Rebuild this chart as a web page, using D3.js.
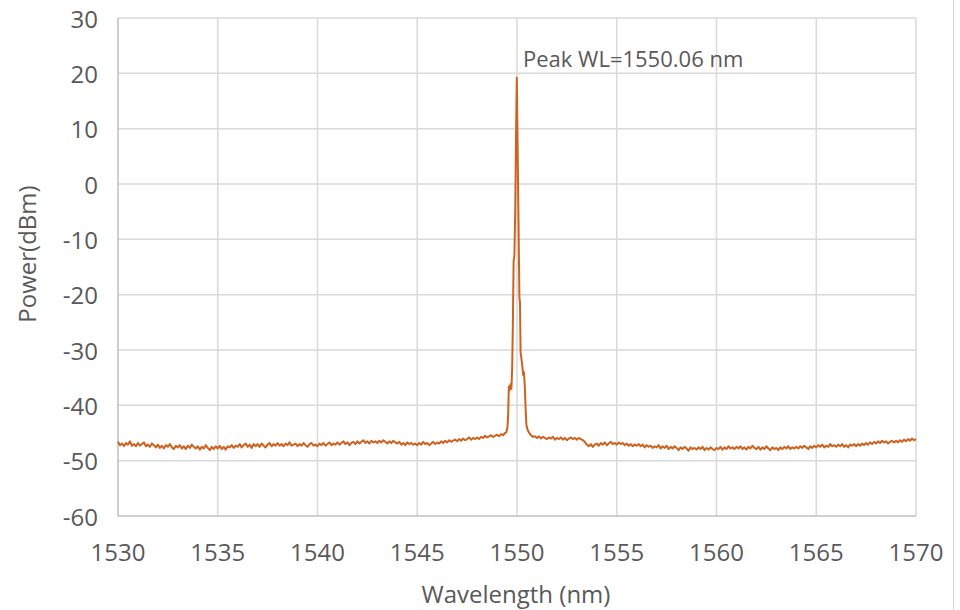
<!DOCTYPE html>
<html><head><meta charset="utf-8">
<script src="https://cdn.jsdelivr.net/npm/d3@7"></script>
<style>body{margin:0;background:#fff}svg{display:block}</style>
</head><body>
<svg id="c" width="960" height="610"></svg>
<script>
// ---- data ----
const xTicks = [1530,1535,1540,1545,1550,1555,1560,1565,1570];
const yTicks = [30,20,10,0,-10,-20,-30,-40,-50,-60];
const sampleStep = 0.1; // OSA sampling grid (nm)
const leftStart = 1530.0;
const leftFloor = [
 -46.6,-47.2,-46.9,-47.4,-46.8,-47.1,-46.5,-47.3,-47.0,-47.4,
 -46.8,-47.3,-47.0,-46.7,-47.4,-47.1,-47.5,-46.9,-47.2,-47.6,
 -47.1,-47.7,-47.3,-47.8,-47.2,-47.5,-47.0,-47.6,-47.9,-47.3,
 -47.6,-47.2,-47.8,-47.4,-47.9,-47.3,-47.7,-47.1,-47.5,-47.8,
 -47.4,-48.0,-47.5,-47.8,-47.2,-47.7,-48.1,-47.5,-47.9,-47.4,
 -47.8,-47.3,-47.9,-47.5,-48.0,-47.4,-47.6,-47.2,-47.7,-47.3,
 -47.5,-47.0,-47.6,-47.2,-46.9,-47.5,-47.1,-47.7,-47.0,-47.4,
 -47.0,-47.5,-46.9,-47.3,-47.6,-47.1,-46.8,-47.4,-47.0,-47.3,
 -46.8,-47.3,-47.0,-47.4,-46.9,-47.2,-46.7,-47.3,-47.1,-46.9,
 -47.4,-47.0,-47.3,-46.8,-47.2,-47.5,-47.0,-46.8,-47.3,-47.1,
 -47.4,-46.9,-47.2,-46.8,-47.3,-47.0,-46.7,-47.2,-46.9,-47.1,
 -46.7,-47.1,-46.8,-46.5,-47.0,-46.7,-47.2,-46.8,-46.6,-47.0,
 -46.5,-46.9,-46.6,-46.3,-46.8,-46.5,-46.9,-46.4,-46.7,-46.5,
 -46.8,-46.4,-46.7,-46.3,-46.6,-46.9,-46.5,-46.8,-46.4,-46.7,
 -46.9,-46.6,-47.1,-46.8,-47.2,-46.7,-47.0,-46.8,-47.1,-46.9,
 -47.2,-46.8,-47.1,-46.6,-47.0,-46.8,-47.2,-46.9,-46.6,-47.0,
 -46.7,-46.9,-46.5,-46.8,-46.4,-46.7,-46.3,-46.6,-46.4,-46.2,
 -46.5,-46.1,-46.4,-46.0,-46.3,-46.1,-45.8,-46.2,-45.9,-46.1,
 -45.8,-46.1,-45.7,-45.9,-45.5,-45.8,-45.6,-45.4,-45.7,-45.5,
 -45.3,-45.6,-45.2,-45.4,-45.0
];
const peakWl = [1549.46,1549.52,1549.56,1549.59,1549.63,1549.67,1549.72,1549.76,1549.79,1549.83,1549.87,1549.91,1549.95,1549.99,1550.02,1550.05,1550.08,1550.12,1550.15,1550.18,1550.22,1550.27,1550.31,1550.35,1550.39,1550.43,1550.47,1550.52,1550.58,1550.64,1550.70];
const peakDb = [-44.9,-44.0,-41.5,-36.6,-37.3,-36.2,-37.0,-33.0,-26.0,-14.0,-13.0,-5.0,8.0,19.2,10.0,1.0,-8.0,-20.5,-21.5,-30.5,-31.5,-33.0,-34.5,-34.0,-36.5,-40.5,-43.5,-44.3,-44.8,-45.1,-45.4];
const rightStart = 1550.8;
const rightFloor = [
 -45.7,-45.6,
 -45.9,-45.6,-46.0,-45.7,-45.9,-46.1,-45.8,-46.0,-45.7,-46.2,
 -45.9,-46.1,-45.8,-46.2,-45.9,-46.3,-46.0,-45.8,-46.1,-45.9,
 -46.2,-45.9,-46.1,-46.3,-46.6,-47.1,-47.4,-47.0,-47.5,-47.1,
 -46.9,-47.3,-46.8,-47.1,-46.7,-47.2,-46.9,-46.6,-47.0,-46.8,
 -47.1,-46.7,-47.0,-46.8,-47.2,-46.9,-47.3,-47.0,-47.4,-47.1,
 -47.3,-47.0,-47.4,-47.1,-47.6,-47.2,-47.5,-47.3,-47.7,-47.4,
 -47.6,-47.2,-47.8,-47.4,-47.7,-47.3,-47.9,-47.5,-47.8,-47.4,
 -47.7,-48.1,-47.6,-47.9,-47.5,-47.8,-48.2,-47.6,-47.9,-47.7,
 -48.0,-47.6,-47.9,-47.5,-48.1,-47.7,-48.0,-47.6,-47.9,-48.1,
 -47.7,-47.9,-47.5,-48.0,-47.6,-47.9,-47.4,-47.8,-47.6,-47.9,
 -47.5,-47.8,-47.4,-47.9,-47.6,-48.0,-47.5,-47.8,-47.3,-47.7,
 -47.9,-47.5,-48.0,-47.6,-47.9,-47.4,-47.8,-48.1,-47.6,-47.9,
 -47.7,-48.1,-47.6,-47.9,-47.5,-47.8,-47.4,-47.9,-47.6,-47.8,
 -47.5,-47.8,-47.4,-47.7,-47.3,-47.6,-47.9,-47.4,-47.7,-47.3,
 -47.6,-47.2,-47.5,-47.1,-47.6,-47.3,-47.5,-47.0,-47.4,-47.2,
 -47.5,-47.1,-47.4,-47.0,-47.5,-47.2,-47.6,-47.1,-47.3,-47.0,
 -47.4,-47.0,-47.3,-46.9,-47.2,-46.8,-47.1,-46.7,-47.0,-46.6,
 -46.9,-46.5,-46.8,-46.4,-46.7,-46.5,-46.9,-46.6,-46.4,-46.7,
 -46.4,-46.7,-46.3,-46.6,-46.2,-46.5,-46.1,-46.4,-46.0,-46.3,
 -46.1
];
const annotation = "Peak WL=1550.06 nm";
const xTitle = "Wavelength (nm)";
const yTitle = "Power(dBm)";

// ---- build series ----
const pts = [];
leftFloor.forEach((v,i)=>pts.push([leftStart + i*sampleStep, v]));
peakWl.forEach((w,i)=>pts.push([w, peakDb[i]]));
rightFloor.forEach((v,i)=>pts.push([rightStart + i*sampleStep, v]));

// ---- layout ----
const svg = d3.select("#c");
const L = 118, R = 916, T = 18, B = 516;
const x = d3.scaleLinear().domain([1530,1570]).range([L,R]);
const y = d3.scaleLinear().domain([-60,30]).range([B,T]);
const font = "'Open Sans', sans-serif";
const txt = "#595959";

// border at right
svg.append("line").attr("x1",953.5).attr("x2",953.5).attr("y1",0).attr("y2",610)
  .attr("stroke","#d9d9d9").attr("stroke-width",1);

// gridlines
svg.append("g").selectAll("line").data(yTicks.filter(d=>d!==-60)).join("line")
  .attr("x1",L).attr("x2",R).attr("y1",d=>y(d)).attr("y2",d=>y(d))
  .attr("stroke","#d9d9d9").attr("stroke-width",1.5);
svg.append("g").selectAll("line").data(xTicks.filter(d=>d!==1530)).join("line")
  .attr("y1",T).attr("y2",B).attr("x1",d=>x(d)).attr("x2",d=>x(d))
  .attr("stroke","#d9d9d9").attr("stroke-width",1.5);
// axis lines
svg.append("line").attr("x1",L).attr("x2",L).attr("y1",T).attr("y2",B).attr("stroke","#bfbfbf").attr("stroke-width",1.5);
svg.append("line").attr("x1",L).attr("x2",R).attr("y1",B).attr("y2",B).attr("stroke","#bfbfbf").attr("stroke-width",1.5);

// tick labels
svg.append("g").selectAll("text").data(yTicks).join("text")
  .attr("x",98).attr("y",d=>y(d)+9.5).attr("text-anchor","end")
  .attr("font-family",font).attr("font-size",24).attr("fill",txt).text(d=>d);
svg.append("g").selectAll("text").data(xTicks).join("text")
  .attr("x",d=>x(d)).attr("y",561).attr("text-anchor","middle")
  .attr("font-family",font).attr("font-size",24).attr("fill",txt).text(d=>d);

// axis titles
svg.append("text").attr("x",516).attr("y",603).attr("text-anchor","middle")
  .attr("font-family",font).attr("font-size",24).attr("fill",txt).text(xTitle);
svg.append("text").attr("transform","translate(36,254) rotate(-90)").attr("text-anchor","middle")
  .attr("font-family",font).attr("font-size",24).attr("fill",txt).text(yTitle);

// line
svg.append("path").datum(pts)
  .attr("d", d3.line().x(d=>x(d[0])).y(d=>y(d[1])))
  .attr("fill","none").attr("stroke","#cc6320").attr("stroke-width",2).attr("stroke-linejoin","round");

// annotation
svg.append("text").attr("x",523).attr("y",67)
  .attr("font-family",font).attr("font-size",22).attr("fill",txt).text(annotation);
</script>
</body></html>
